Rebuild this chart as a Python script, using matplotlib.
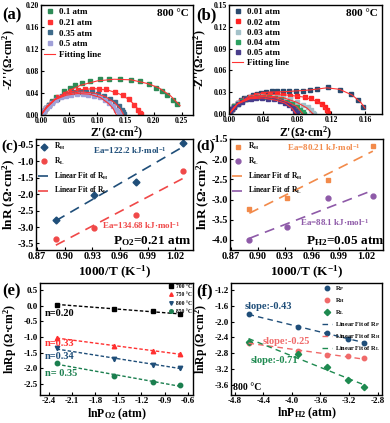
import numpy as np
import matplotlib
matplotlib.use('Agg')
import matplotlib.pyplot as plt

plt.rcParams['font.family'] = ['Liberation Serif', 'DejaVu Serif']
plt.rcParams['font.weight'] = 'bold'
plt.rcParams['axes.labelweight'] = 'bold'
plt.rcParams['mathtext.fontset'] = 'custom'
plt.rcParams['mathtext.rm'] = 'Liberation Serif:bold'
plt.rcParams['mathtext.bf'] = 'Liberation Serif:bold'
plt.rcParams['mathtext.it'] = 'Liberation Serif:bold:italic'
plt.rcParams['axes.linewidth'] = 1.0

# ---------------- (a) Nyquist, varying pO2 at 800 C ----------------
a_labels = ['0.1 atm', '0.21 atm', '0.35 atm', '0.5 atm']
a_colors = ['#2e8b57', '#ff3333', '#3e6b8a', '#a0a0d8']
a_x = [
    [0.002, 0.005, 0.009, 0.014, 0.020, 0.027, 0.040, 0.051, 0.061, 0.073, 0.087, 0.104,
     0.121, 0.140, 0.159, 0.176, 0.192, 0.204, 0.215, 0.224, 0.235, 0.242],
    [0.002, 0.005, 0.009, 0.014, 0.020, 0.030, 0.042, 0.054, 0.066, 0.078, 0.090, 0.103,
     0.115, 0.131, 0.146, 0.157, 0.166, 0.172, 0.175, 0.177],
    [0.002, 0.005, 0.009, 0.014, 0.020, 0.028, 0.037, 0.047, 0.058, 0.069, 0.080, 0.091,
     0.102, 0.112, 0.122, 0.131, 0.138, 0.143, 0.146, 0.148],
    [0.002, 0.005, 0.009, 0.014, 0.020, 0.027, 0.035, 0.044, 0.054, 0.064, 0.074, 0.084,
     0.094, 0.104, 0.113, 0.121, 0.128, 0.134, 0.138, 0.140],
]
a_y = [
    [0.003, 0.008, 0.013, 0.019, 0.026, 0.033, 0.043, 0.050, 0.055, 0.059, 0.062, 0.065,
     0.066, 0.065, 0.064, 0.061, 0.056, 0.050, 0.044, 0.036, 0.028, 0.020],
    [0.003, 0.008, 0.013, 0.018, 0.024, 0.033, 0.039, 0.043, 0.046, 0.047, 0.048, 0.048,
     0.047, 0.042, 0.036, 0.029, 0.018, 0.009, 0.004, 0.001],
    [0.003, 0.008, 0.013, 0.018, 0.024, 0.030, 0.035, 0.039, 0.041, 0.042, 0.042, 0.041,
     0.038, 0.034, 0.029, 0.023, 0.016, 0.010, 0.005, 0.001],
    [0.003, 0.008, 0.012, 0.017, 0.022, 0.027, 0.032, 0.035, 0.037, 0.038, 0.038, 0.037,
     0.035, 0.032, 0.027, 0.022, 0.016, 0.010, 0.005, 0.001],
]
a_fit_x = [
    [0.0, 0.01, 0.025, 0.045, 0.07, 0.10, 0.13, 0.16, 0.19, 0.21, 0.23, 0.247],
    [0.0, 0.01, 0.025, 0.045, 0.07, 0.095, 0.12, 0.14, 0.155, 0.167, 0.174, 0.178],
    [0.0, 0.01, 0.025, 0.045, 0.07, 0.095, 0.115, 0.13, 0.14, 0.147],
    [0.0, 0.01, 0.025, 0.045, 0.065, 0.085, 0.105, 0.12, 0.128, 0.134],
]
a_fit_y = [
    [0.0, 0.013, 0.028, 0.042, 0.054, 0.062, 0.065, 0.064, 0.057, 0.049, 0.035, 0.017],
    [0.0, 0.014, 0.029, 0.040, 0.046, 0.048, 0.045, 0.038, 0.029, 0.018, 0.008, 0.0],
    [0.0, 0.015, 0.029, 0.038, 0.042, 0.040, 0.033, 0.023, 0.013, 0.0],
    [0.0, 0.015, 0.028, 0.036, 0.039, 0.038, 0.032, 0.021, 0.012, 0.0],
]

# ---------------- (b) Nyquist, varying pH2 at 800 C ----------------
b_labels = ['0.01 atm', '0.02 atm', '0.03 atm', '0.04 atm', '0.05 atm']
b_colors = ['#2a4a6e', '#ff2222', '#a3c1c9', '#2aa060', '#483d8b']
b_x = [
    [0.001, 0.003, 0.006, 0.010, 0.014, 0.018, 0.023, 0.028, 0.033, 0.038, 0.044, 0.050,
     0.057, 0.064, 0.071, 0.079, 0.087, 0.095, 0.103, 0.117, 0.131, 0.144, 0.152, 0.158],
    [0.001, 0.003, 0.006, 0.010, 0.014, 0.019, 0.025, 0.032, 0.040, 0.048, 0.056, 0.064,
     0.072, 0.080, 0.089, 0.097, 0.104, 0.109, 0.113, 0.115, 0.116],
    [0.001, 0.003, 0.006, 0.010, 0.015, 0.020, 0.026, 0.033, 0.040, 0.048, 0.056, 0.064,
     0.072, 0.080, 0.087, 0.093, 0.097, 0.099, 0.100],
    [0.001, 0.003, 0.006, 0.010, 0.015, 0.020, 0.026, 0.033, 0.040, 0.047, 0.054, 0.061,
     0.068, 0.074, 0.080, 0.084, 0.087, 0.088],
    [0.001, 0.003, 0.006, 0.010, 0.015, 0.020, 0.026, 0.032, 0.039, 0.046, 0.053, 0.060,
     0.066, 0.071, 0.075, 0.078, 0.080],
]
b_y = [
    [0.003, 0.007, 0.011, 0.015, 0.019, 0.022, 0.024, 0.026, 0.028, 0.029, 0.030, 0.031,
     0.031, 0.031, 0.031, 0.031, 0.032, 0.033, 0.035, 0.037, 0.033, 0.027, 0.019, 0.010],
    [0.003, 0.007, 0.011, 0.015, 0.018, 0.021, 0.024, 0.026, 0.027, 0.027, 0.027, 0.026,
     0.025, 0.025, 0.024, 0.022, 0.018, 0.014, 0.009, 0.005, 0.001],
    [0.003, 0.007, 0.011, 0.015, 0.018, 0.021, 0.023, 0.025, 0.025, 0.025, 0.024, 0.022,
     0.020, 0.017, 0.013, 0.009, 0.005, 0.002, 0.0],
    [0.003, 0.007, 0.011, 0.014, 0.018, 0.020, 0.022, 0.023, 0.024, 0.023, 0.022, 0.020,
     0.017, 0.014, 0.010, 0.006, 0.003, 0.0],
    [0.003, 0.007, 0.010, 0.014, 0.017, 0.020, 0.021, 0.022, 0.022, 0.021, 0.020, 0.018,
     0.015, 0.012, 0.008, 0.004, 0.001],
]
b_fit_x = [
    [0.0, 0.01, 0.025, 0.045, 0.07, 0.095, 0.115, 0.13, 0.145, 0.155, 0.16],
    [0.0, 0.01, 0.025, 0.045, 0.07, 0.09, 0.104, 0.112, 0.117],
    [0.0, 0.01, 0.025, 0.045, 0.065, 0.08, 0.092, 0.099],
    [0.0, 0.01, 0.025, 0.04, 0.055, 0.07, 0.08, 0.087],
    [0.0, 0.01, 0.025, 0.04, 0.055, 0.066, 0.074, 0.079],
]
b_fit_y = [
    [0.0, 0.014, 0.025, 0.030, 0.031, 0.033, 0.036, 0.034, 0.026, 0.016, 0.008],
    [0.0, 0.014, 0.023, 0.027, 0.026, 0.023, 0.017, 0.009, 0.0],
    [0.0, 0.014, 0.022, 0.025, 0.022, 0.016, 0.008, 0.0],
    [0.0, 0.014, 0.022, 0.024, 0.022, 0.016, 0.010, 0.0],
    [0.0, 0.014, 0.021, 0.022, 0.019, 0.015, 0.008, 0.0],
]

# ---------------- (c), (d) Arrhenius ----------------
inv_T = [0.8905, 0.9320, 0.9775, 1.0277]
c_RH = [-2.80, -2.02, -1.62, -0.45]
c_RL = [-3.37, -3.02, -2.62, -1.28]
d_RH = [-3.23, -2.95, -2.52, -1.68]
d_RL = [-4.00, -3.67, -2.97, -2.90]

# ---------------- (e) lnRp vs lnPO2 ----------------
lnPO2 = [-2.303, -1.561, -1.050, -0.693]
e_temps = ['700 °C', '750 °C', '800 °C', '850 °C']
e_Rp = [
    [0.04, -0.09, -0.18, -0.27],
    [-1.02, -1.28, -1.45, -1.53],
    [-1.36, -1.70, -1.88, -1.98],
    [-1.83, -2.25, -2.44, -2.53],
]
e_n = ['n=0.20', 'n=0.33', 'n=0.34', 'n= 0.35']

# ---------------- (f) ln R vs lnPH2 ----------------
lnPH2 = [-4.605, -3.912, -3.507, -3.219, -2.996]
f_Rp = [-1.82, -2.13, -2.30, -2.43, -2.53]
f_RH = [-2.53, -2.73, -2.85, -2.88, -2.93]
f_RL = [-2.51, -2.82, -3.15, -3.46, -3.66]

fig = plt.figure(figsize=(3.9, 4.23), dpi=100)
W, H = 390.0, 423.0


def make_ax(l, r, t, b):
    return fig.add_axes([l / W, 1 - b / H, (r - l) / W, (b - t) / H])


def style(ax, xt, yt, xfmt, yfmt, fs):
    ax.set_xticks(xt)
    ax.set_yticks(yt)
    ax.set_xticklabels([xfmt % v for v in xt])
    ax.set_yticklabels([yfmt % v for v in yt])
    ax.tick_params(labelsize=fs, length=2.5, width=0.8, pad=1.5, direction='in')


def place_labels(ax, xl, yl, xoff, yoff, fs):
    ax.set_xlabel(xl, fontsize=fs)
    ax.set_ylabel(yl, fontsize=fs)
    ax.xaxis.set_label_coords(0.5, xoff)
    ax.yaxis.set_label_coords(yoff, 0.5)
    ax.xaxis.label.set_va('center')
    ax.yaxis.label.set_va('center')


# (a)
ax = make_ax(41, 193, 5, 115)
for i in range(4):
    ax.plot(a_x[i], a_y[i], 's', ms=2.8, color=a_colors[i], mec=a_colors[i], label=a_labels[i])
for i in range(4):
    ax.plot(a_fit_x[i], a_fit_y[i], '-', color='#ff3333', lw=0.8,
            label='Fitting line' if i == 0 else None)
ax.set_xlim(0, 0.27)
ax.set_ylim(0, 0.2)
style(ax, [0, 0.05, 0.10, 0.15, 0.20, 0.25], [0, 0.04, 0.08, 0.12, 0.16, 0.20], '%.2f', '%.2f', 5.5)
place_labels(ax, "Z'(Ω·cm$^\\mathbf{2}$)", "-Z''(Ω·cm$^\\mathbf{2}$)", -18 / 110, -32 / 152, 8.5)
ax.legend(loc='upper left', frameon=False, fontsize=6.5, handlelength=1.2, handletextpad=0.4,
          labelspacing=0.25, borderaxespad=0.15, borderpad=0.2)
ax.text(0.97, 0.96, '800 °C', transform=ax.transAxes, ha='right', va='top', fontsize=8)

# (b)
ax = make_ax(229, 382, 5, 114)
for i in range(5):
    ax.plot(b_x[i], b_y[i], 's', ms=2.8, color=b_colors[i], mec=b_colors[i], label=b_labels[i])
for i in range(5):
    ax.plot(b_fit_x[i], b_fit_y[i], '-', color='#ff3333', lw=0.8,
            label='Fitting line' if i == 0 else None)
ax.set_xlim(0, 0.18)
ax.set_ylim(0, 0.15)
style(ax, [0, 0.04, 0.08, 0.12, 0.16], [0, 0.03, 0.06, 0.09, 0.12, 0.15], '%.2f', '%.2f', 5.5)
place_labels(ax, "Z'(Ω·cm$^\\mathbf{2}$)", "-Z''(Ω·cm$^\\mathbf{2}$)", -19 / 109, -29 / 153, 8.5)
ax.legend(loc='upper left', frameon=False, fontsize=6.5, handlelength=1.2, handletextpad=0.4,
          labelspacing=0.2, borderaxespad=0.15, borderpad=0.2)
ax.text(0.97, 0.96, '800 °C', transform=ax.transAxes, ha='right', va='top', fontsize=8)


def arrhenius(ax, yH, yL, cH, cL, mH, mL, ea1, ea2, cond, yt):
    xs = np.array(inv_T)
    ax.plot(inv_T, yH, mH, ms=3.5, color=cH, ls='none', label='R$_\\mathbf{H}$')
    ax.plot(inv_T, yL, mL, ms=3.5, color=cL, ls='none', label='R$_\\mathbf{L}$')
    pH = np.polyfit(xs, yH, 1)
    pL = np.polyfit(xs, yL, 1)
    ax.plot(xs[[0, -1]], np.polyval(pH, xs[[0, -1]]), color=cH, lw=1.2, dashes=(6, 4),
            label='Linear Fit of R$_\\mathbf{H}$')
    ax.plot(xs[[0, -1]], np.polyval(pL, xs[[0, -1]]), color=cL, lw=1.2, dashes=(6, 4),
            label='Linear Fit of R$_\\mathbf{L}$')
    ax.set_xlim(0.869, 1.039)
    style(ax, [0.87, 0.90, 0.93, 0.96, 0.99, 1.02], yt, '%.2f', '%.1f', 7.5)
    place_labels(ax, '1000/T (K$^\\mathbf{-1}$)', 'lnR (Ω·cm$^\\mathbf{2}$)', -22 / 111, -27 / 157, 9.5)
    ax.legend(loc='upper left', frameon=False, fontsize=5.5, handlelength=1.6, handletextpad=0.5,
              labelspacing=0.45, borderaxespad=0.1, borderpad=0.2)
    ax.text(ea1[0], ea1[1], ea1[2], color=cH, transform=ax.transAxes, fontsize=6.5, va='center')
    ax.text(ea2[0], ea2[1], ea2[2], color=cL, transform=ax.transAxes, fontsize=6.5, va='center')
    ax.text(cond[0], cond[1], cond[2], transform=ax.transAxes, fontsize=9.5, va='center')


# (c)
ax = make_ax(36, 193, 139, 250)
ax.set_ylim(-3.70, -0.32)
arrhenius(ax, c_RH, c_RL, '#1f4e79', '#f04848', 'D', 'o',
          (0.36, 0.90, 'Ea=122.2 kJ·mol$^\\mathbf{-1}$'),
          (0.42, 0.225, 'Ea=134.68 kJ·mol$^\\mathbf{-1}$'),
          (0.49, 0.08, 'P$_\\mathbf{O2}$=0.21 atm'),
          [-3.5, -3.0, -2.5, -2.0, -1.5, -1.0, -0.5])

# (d)
ax = make_ax(230, 383, 139, 250)
ax.set_ylim(-4.25, -1.5)
arrhenius(ax, d_RH, d_RL, '#f28a4a', '#8e5aa8', 's', 'o',
          (0.37, 0.92, 'Ea=80.21 kJ·mol$^\\mathbf{-1}$'),
          (0.46, 0.25, 'Ea=88.1 kJ·mol$^\\mathbf{-1}$'),
          (0.50, 0.08, 'P$_\\mathbf{H2}$=0.05 atm'),
          [-4.0, -3.5, -3.0, -2.5, -2.0, -1.5])

# (e)
ax = make_ax(40, 193, 283, 395)
e_colors = ['black', '#ff3030', '#1f4e79', '#1b7f4f']
e_marks = ['s', '^', 'v', 'o']
e_ty = [0.73, 0.46, 0.34, 0.19]
xs = np.array(lnPO2)
for i in range(4):
    ax.plot(lnPO2, e_Rp[i], e_marks[i], ms=3.2, color=e_colors[i], ls='none', label=e_temps[i])
    p = np.polyfit(xs, e_Rp[i], 1)
    ax.plot(xs[[0, -1]], np.polyval(p, xs[[0, -1]]), color=e_colors[i], lw=1.0, dashes=(2.5, 1.5))
    ax.text(0.03, e_ty[i], e_n[i], color=e_colors[i], transform=ax.transAxes, fontsize=7.5, va='center')
ax.set_xlim(-2.52, -0.53)
ax.set_ylim(-2.85, 0.73)
style(ax, [-2.4, -2.1, -1.8, -1.5, -1.2, -0.9, -0.6], [-2.5, -2.0, -1.5, -1.0, -0.5, 0.0, 0.5],
      '%.1f', '%.1f', 6.5)
place_labels(ax, 'lnP$_\\mathbf{O2}$ (atm)', 'lnRp (Ω·cm$^\\mathbf{2}$)', -19 / 112, -30 / 153, 8.5)
ax.legend(loc='upper right', frameon=False, fontsize=4, handlelength=0.8, handletextpad=0.5,
          labelspacing=0.6, borderaxespad=0.1, borderpad=0.1, markerscale=0.8)

# (f)
ax = make_ax(231, 382, 283, 395)
f_colors = ['#1f4e79', '#f06a6a', '#1e8a50']
f_sets = [f_Rp, f_RH, f_RL]
f_marks = ['o', 'o', 'D']
f_names = ['P', 'H', 'L']
xs = np.array(lnPH2)
handles = []
for i in range(3):
    h, = ax.plot(lnPH2, f_sets[i], f_marks[i], ms=3.2, color=f_colors[i], ls='none',
                 label='R$_\\mathbf{%s}$' % f_names[i])
    handles.append(h)
for i in range(3):
    p = np.polyfit(xs, f_sets[i], 1)
    h, = ax.plot(xs[[0, -1]], np.polyval(p, xs[[0, -1]]), color=f_colors[i], lw=1.0, dashes=(4, 3),
                 label='Linear Fit of R$_\\mathbf{%s}$' % f_names[i])
    handles.append(h)
ax.set_xlim(-4.85, -2.74)
ax.set_ylim(-3.85, -1.03)
style(ax, [-4.8, -4.4, -4.0, -3.6, -3.2, -2.8], [-3.6, -3.2, -2.8, -2.4, -2.0, -1.6, -1.2],
      '%.1f', '%.1f', 6.5)
place_labels(ax, 'lnP$_\\mathbf{H2}$ (atm)', 'lnRp (Ω·cm$^\\mathbf{2}$)', -18 / 112, -30 / 151, 8.5)
ax.legend(handles=handles, loc='upper right', frameon=False, fontsize=4.5, handlelength=1.6,
          handletextpad=0.5, labelspacing=0.5, borderaxespad=0.1, borderpad=0.1)
ax.text(0.093, 0.79, 'slope:-0.43', color=f_colors[0], transform=ax.transAxes, fontsize=7.5, va='center')
ax.text(0.21, 0.48, 'slope:-0.25', color=f_colors[1], transform=ax.transAxes, fontsize=7.5, va='center')
ax.text(0.13, 0.31, 'slope:-0.71', color=f_colors[2], transform=ax.transAxes, fontsize=7.5, va='center')
ax.text(0.01, 0.07, '800 °C', transform=ax.transAxes, fontsize=7, va='center')

# panel letters
for lab, x, y, fs in [('(a)', 2, 15, 12), ('(b)', 196, 15, 12), ('(c)', 1, 146, 11),
                      ('(d)', 196, 146, 11), ('(e)', 2, 291, 12), ('(f)', 196, 291, 12)]:
    fig.text(x / W, 1 - y / H, lab, fontsize=fs, va='center', ha='left')

fig.savefig('out.png', dpi=100)
